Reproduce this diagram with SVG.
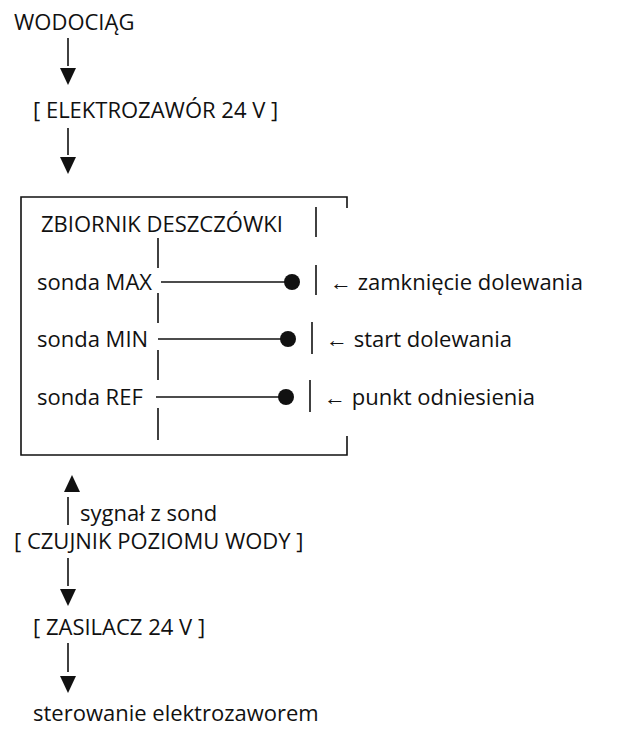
<svg xmlns="http://www.w3.org/2000/svg" width="640" height="743" viewBox="0 0 640 743">
<style>
text{font-family:"Open Sans","Liberation Sans",sans-serif;font-size:22px;fill:#111}
.l{stroke:#111;stroke-width:1.6;fill:none}
.t{fill:#111}
</style>
<rect width="640" height="743" fill="#fff"/>
<g id="connectors">
<line class="l" x1="68" y1="38" x2="68" y2="66"/><polygon class="t" points="60,68 76,68 68,85"/>
<line class="l" x1="68" y1="128" x2="68" y2="155"/><polygon class="t" points="60,157 76,157 68,174"/>
<polygon class="t" points="64,492 80,492 72,475"/><line class="l" x1="68" y1="497" x2="68" y2="525"/>
<line class="l" x1="68" y1="558" x2="68" y2="586"/><polygon class="t" points="60,589 76,589 68,606"/>
<line class="l" x1="68" y1="643" x2="68" y2="672"/><polygon class="t" points="60,676 76,676 68,693"/>
</g>
<g id="wodociag"><text x="14" y="30">WODOCIĄG</text></g>
<g id="elektrozawor"><text x="33" y="118">[ ELEKTROZAWÓR 24 V ]</text></g>
<g id="zbiornik">
<path class="l" d="M347,208 V197 H21 V455 H347 V436"/>
<text x="41" y="232">ZBIORNIK DESZCZÓWKI</text>
<line class="l" x1="316" y1="207" x2="316" y2="237"/>
<line class="l" x1="158" y1="238" x2="158" y2="268"/>
<line class="l" x1="158" y1="293" x2="158" y2="323"/>
<line class="l" x1="158" y1="350" x2="158" y2="380"/>
<line class="l" x1="158" y1="408" x2="158" y2="440"/>
</g>
<g id="sonda-max">
<text x="37" y="290">sonda MAX</text>
<line class="l" x1="161" y1="282" x2="288" y2="282"/><circle class="t" cx="292" cy="282" r="8"/>
<line class="l" x1="316" y1="265" x2="316" y2="295"/>
<text x="330" y="290">← zamknięcie dolewania</text>
</g>
<g id="sonda-min">
<text x="37" y="347">sonda MIN</text>
<line class="l" x1="158" y1="339" x2="284" y2="339"/><circle class="t" cx="288" cy="339" r="8"/>
<line class="l" x1="312" y1="322" x2="312" y2="354"/>
<text x="326" y="347">← start dolewania</text>
</g>
<g id="sonda-ref">
<text x="37" y="405">sonda REF</text>
<line class="l" x1="156" y1="397" x2="282" y2="397"/><circle class="t" cx="286" cy="397" r="8"/>
<line class="l" x1="310" y1="380" x2="310" y2="412"/>
<text x="324" y="405">← punkt odniesienia</text>
</g>
<g id="sygnal"><text x="80" y="521">sygnał z sond</text></g>
<g id="czujnik"><text x="14" y="549">[ CZUJNIK POZIOMU WODY ]</text></g>
<g id="zasilacz"><text x="33" y="635">[ ZASILACZ 24 V ]</text></g>
<g id="sterowanie"><text x="33" y="721">sterowanie elektrozaworem</text></g>
</svg>
